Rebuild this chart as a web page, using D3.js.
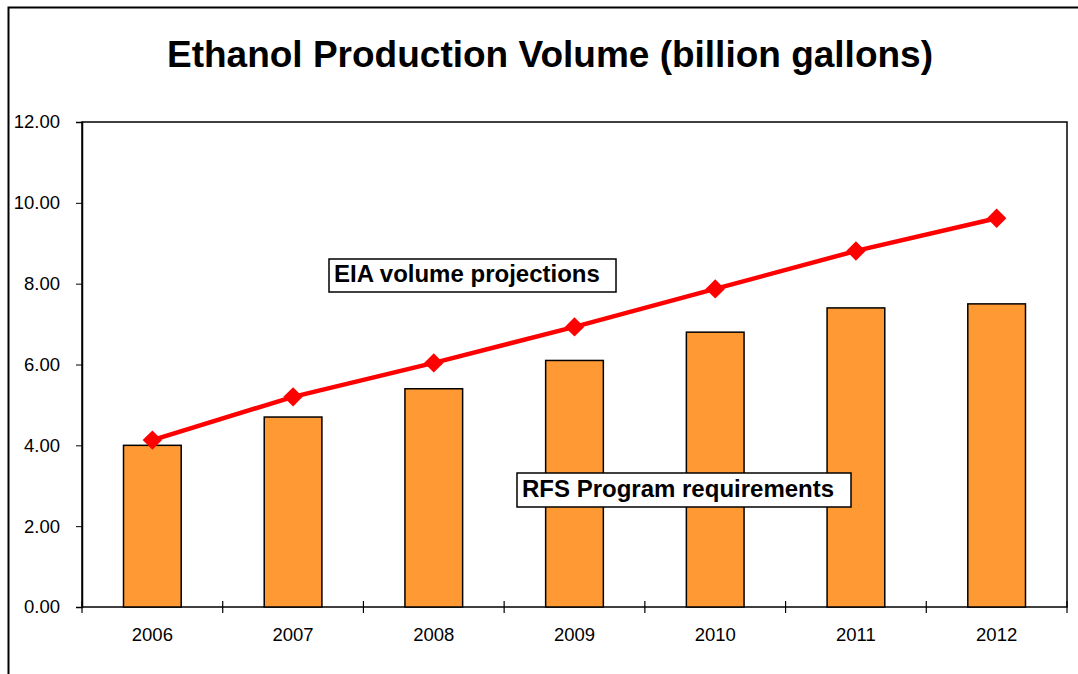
<!DOCTYPE html>
<html>
<head>
<meta charset="utf-8">
<script src="https://cdn.jsdelivr.net/npm/d3@7"></script>
<style>
  body { margin: 0; background: #fff; }
  svg { display: block; font-family: 'Liberation Sans', Arial, sans-serif; }
</style>
</head>
<body>
<svg id="chart"></svg>
<script>
const years = ['2006', '2007', '2008', '2009', '2010', '2011', '2012'];
// RFS Program requirements (bars)
const rfsValues = [4.0, 4.7, 5.4, 6.1, 6.8, 7.4, 7.5];
// EIA volume projections (line)
const eiaValues = [4.13, 5.2, 6.04, 6.93, 7.87, 8.81, 9.62];
const yTicks = [0, 2, 4, 6, 8, 10, 12];

const W = 1078, H = 674;
const margin = { top: 122, right: 11, bottom: 67, left: 82 },
  width = W - margin.left - margin.right,
  height = H - margin.top - margin.bottom;

const svg = d3.select('#chart').attr('width', W).attr('height', H);

// outer chart frame (only left and top visible)
svg.append('path')
  .attr('d', `M8.5,${H} V7.5 H${W}`)
  .attr('fill', 'none')
  .attr('stroke', '#000')
  .attr('stroke-width', 2);

svg.append('text')
  .attr('x', 550)
  .attr('y', 67)
  .attr('text-anchor', 'middle')
  .style('font-size', '37px')
  .style('font-weight', 'bold')
  .text('Ethanol Production Volume (billion gallons)');

const g = svg.append('g')
  .attr('transform', 'translate(' + margin.left + ',' + margin.top + ')');

const xScale = d3.scaleBand()
  .domain(years)
  .range([0, width])
  .paddingInner(0.59)
  .paddingOuter(0.295);

const xBoundary = d3.scalePoint()
  .domain(d3.range(years.length + 1))
  .range([0, width]);

const yScale = d3.scaleLinear()
  .domain([0, 12])
  .range([height, 0]);

// plot area border
g.append('rect')
  .attr('x', 0)
  .attr('y', 0)
  .attr('width', width)
  .attr('height', height)
  .attr('fill', 'none')
  .attr('stroke', '#000')
  .attr('stroke-width', 1.5);

// bars
g.selectAll('.bar')
  .data(rfsValues)
  .enter()
  .append('rect')
  .attr('class', 'bar')
  .attr('x', (d, i) => xScale(years[i]))
  .attr('y', d => yScale(d))
  .attr('width', xScale.bandwidth())
  .attr('height', d => height - yScale(d))
  .attr('fill', '#FF9933')
  .attr('stroke', '#000')
  .attr('stroke-width', 1.5);

// y axis
const yAxis = g.append('g')
  .call(d3.axisLeft(yScale).tickValues(yTicks).tickSize(6).tickPadding(16).tickFormat(d3.format('.2f')));
yAxis.select('.domain').attr('stroke', '#000').attr('stroke-width', 1.5);
yAxis.selectAll('text').style('font-size', '18.5px').attr('fill', '#000');

// x axis
const xAxis = g.append('g')
  .attr('transform', 'translate(0,' + height + ')')
  .call(d3.axisBottom(xScale).tickSize(0).tickPadding(21));
xAxis.select('.domain').remove();
xAxis.selectAll('text').style('font-size', '18.5px').attr('fill', '#000');

// category boundary ticks crossing the axis
g.selectAll('.xtick')
  .data(xBoundary.domain())
  .enter()
  .append('line')
  .attr('class', 'xtick')
  .attr('x1', d => xBoundary(d))
  .attr('x2', d => xBoundary(d))
  .attr('y1', height - 6)
  .attr('y2', height + 6)
  .attr('stroke', '#000')
  .attr('stroke-width', 1.2);

// line
const line = d3.line()
  .x((d, i) => xScale(years[i]) + xScale.bandwidth() / 2)
  .y(d => yScale(d));

g.append('path')
  .datum(eiaValues)
  .attr('d', line)
  .attr('fill', 'none')
  .attr('stroke', '#FF0000')
  .attr('stroke-width', 4.5);

g.selectAll('.marker')
  .data(eiaValues)
  .enter()
  .append('path')
  .attr('class', 'marker')
  .attr('transform', (d, i) =>
    `translate(${xScale(years[i]) + xScale.bandwidth() / 2},${yScale(d)})`)
  .attr('d', d3.symbol().type(d3.symbolDiamond2).size(240))
  .attr('fill', '#FF0000');

// annotation labels
const labels = [
  { text: 'EIA volume projections', x: 329, y: 259, w: 287, h: 33, base: 23 },
  { text: 'RFS Program requirements', x: 517, y: 473, w: 334, h: 34, base: 24 }
];

labels.forEach(l => {
  svg.append('rect')
    .attr('x', l.x)
    .attr('y', l.y)
    .attr('width', l.w)
    .attr('height', l.h)
    .attr('fill', '#fff')
    .attr('stroke', '#000')
    .attr('stroke-width', 1.5);
  svg.append('text')
    .attr('x', l.x + 5)
    .attr('y', l.y + l.base)
    .style('font-size', '24px')
    .style('font-weight', 'bold')
    .text(l.text);
});
</script>
</body>
</html>
